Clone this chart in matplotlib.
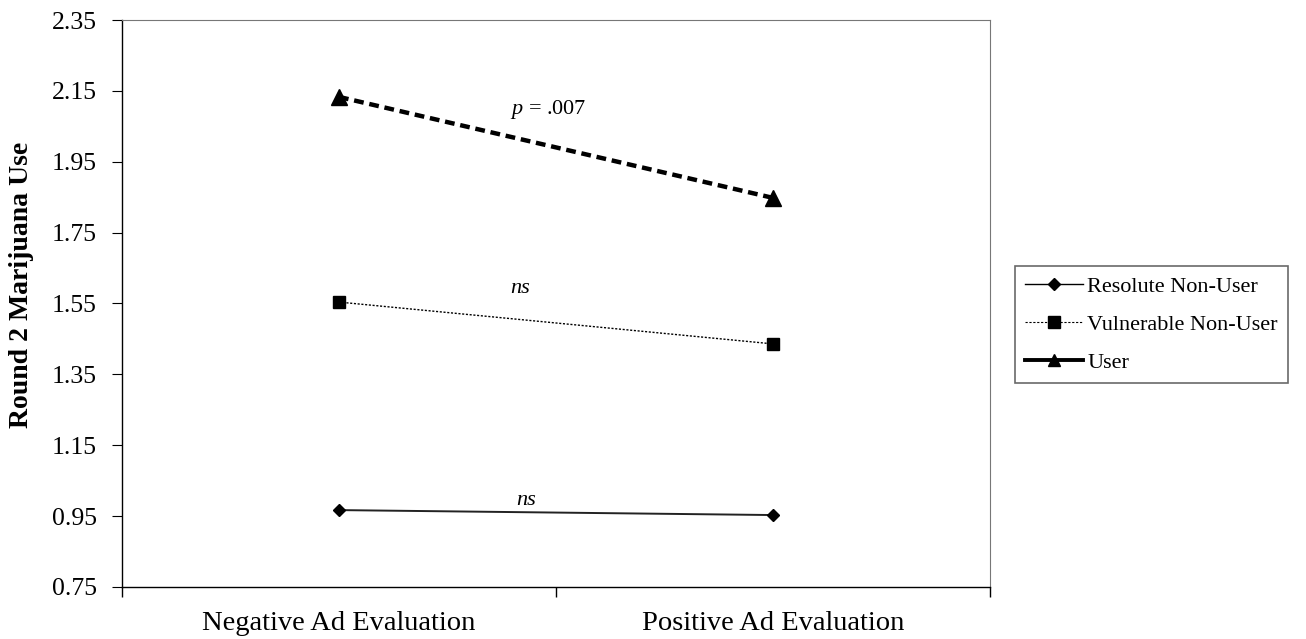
import matplotlib.pyplot as plt
from matplotlib.lines import Line2D

plt.rcParams["font.family"] = ["Liberation Serif", "DejaVu Serif"]
plt.rcParams["mathtext.fontset"] = "custom"
plt.rcParams["mathtext.it"] = "Liberation Serif:italic"
plt.rcParams["mathtext.rm"] = "Liberation Serif"

# data
conditions = ["Negative Ad Evaluation", "Positive Ad Evaluation"]
resolute = [0.967, 0.953]
vulnerable = [1.554, 1.436]
user = [2.133, 1.848]
group_names = ["Resolute Non-User", "Vulnerable Non-User", "User"]
yticks = [0.75, 0.95, 1.15, 1.35, 1.55, 1.75, 1.95, 2.15, 2.35]

fig = plt.figure(figsize=(13.06, 6.39), dpi=100)
ax = fig.add_axes([0.0934, 0.0814, 0.6646, 0.8873])

x = list(range(len(conditions)))
ax.plot(x, resolute, color="#222222", lw=1.4, marker="D", ms=6, mfc="black", mec="black")
ax.plot(x, vulnerable, color="black", lw=1.0, ls=(0, (1.5, 1.2)), marker="s", ms=8, mfc="black")
ax.plot(x, user, color="black", lw=3.2, ls=(0, (2.2, 1.3)), marker="^", ms=11, mfc="black")

# significance notes
ax.text(0.431, 0.995, "ns", style="italic", fontsize=16, ha="center", va="center")
ax.text(0.417, 1.592, "ns", style="italic", fontsize=16, ha="center", va="center")
ax.text(0.482, 2.098, "$p$ = .007", fontsize=16, ha="center", va="center")

ax.set_xlim(-0.5, 1.5)
ax.set_ylim(0.75, 2.35)
ax.set_yticks(yticks)
ax.set_yticklabels([f"{t:.2f}" for t in yticks])
ax.set_xticks(x)
ax.set_xticklabels(conditions)
ax.set_xticks([-0.5, 0.5, 1.5], minor=True)
ax.tick_params(axis="x", which="major", length=0, pad=17, labelsize=20.5)
ax.tick_params(axis="x", which="minor", length=7, direction="out", width=1)
ax.tick_params(axis="y", length=7, direction="out", labelsize=18.5, pad=11)

for side in ["top", "right"]:
    ax.spines[side].set_color("#777777")
    ax.spines[side].set_linewidth(0.8)
for side in ["left", "bottom"]:
    ax.spines[side].set_color("black")
    ax.spines[side].set_linewidth(1.0)

ax.set_ylabel("Round 2 Marijuana Use", fontsize=20, fontweight="bold")
ax.yaxis.set_label_coords(-0.101, 0.533)

handles = [
    Line2D([], [], color="black", lw=1.0, marker="D", ms=6),
    Line2D([], [], color="black", lw=0.8, ls=(0, (2, 1.5)), marker="s", ms=8),
    Line2D([], [], color="black", lw=2.8, marker="^", ms=9),
]
leg = ax.legend(handles, group_names, loc="upper left", bbox_to_anchor=(0.7772, 0.5837),
                bbox_transform=fig.transFigure, fontsize=16, frameon=True, fancybox=False,
                edgecolor="#444444", handlelength=2.6, handletextpad=0.2, borderpad=0.45,
                labelspacing=0.8, borderaxespad=0)
leg.get_frame().set_linewidth(1.2)

fig.savefig("out.png", dpi=100)
